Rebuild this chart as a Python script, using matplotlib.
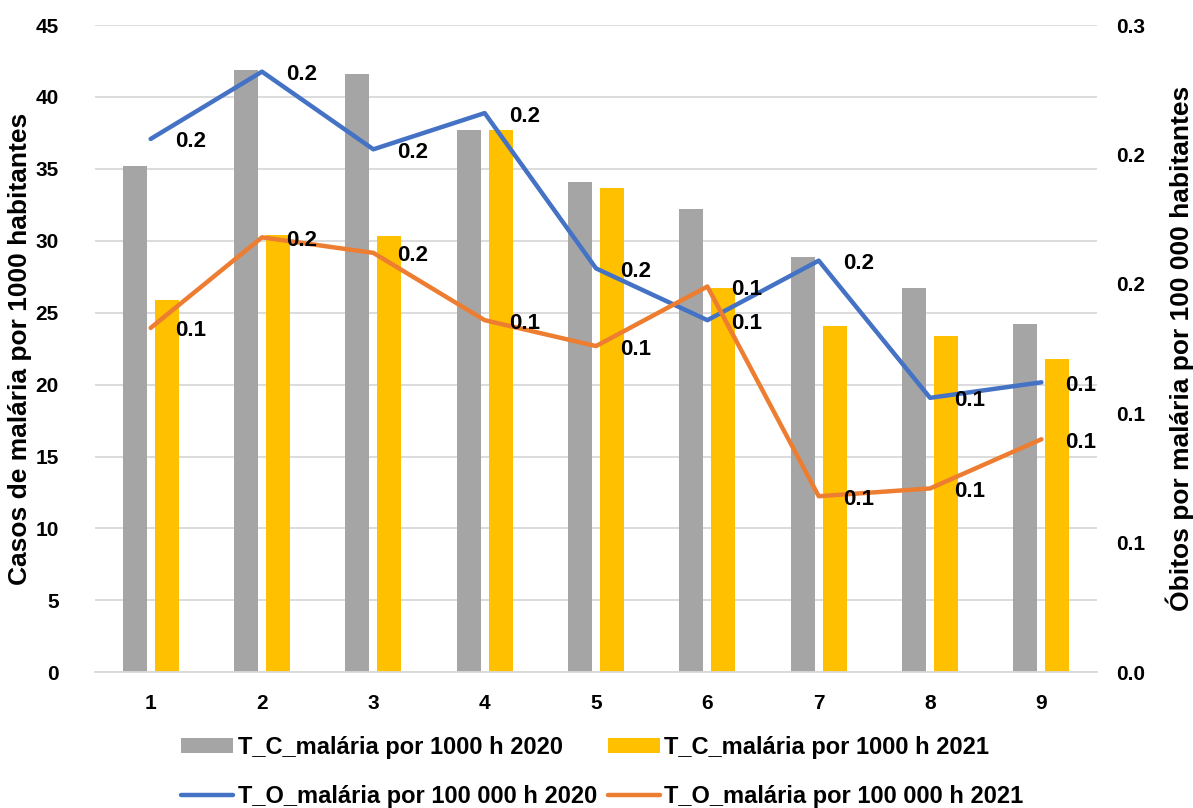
import numpy as np
import matplotlib
matplotlib.use("Agg")
from matplotlib import pyplot as plt

plt.rcParams['font.family'] = ['Liberation Sans', 'DejaVu Sans']
plt.rcParams['font.weight'] = 'bold'
plt.rcParams['axes.labelweight'] = 'bold'

categories = ['1', '2', '3', '4', '5', '6', '7', '8', '9']
casos_2020 = [35.2, 41.9, 41.6, 37.7, 34.1, 32.2, 28.9, 26.7, 24.2]
casos_2021 = [25.9, 30.4, 30.3, 37.7, 33.7, 26.7, 24.1, 23.4, 21.8]
obitos_2020 = [0.206, 0.232, 0.202, 0.216, 0.156, 0.136, 0.159, 0.106, 0.112]
obitos_2021 = [0.133, 0.168, 0.162, 0.136, 0.126, 0.149, 0.068, 0.071, 0.090]

lbl_casos_2020 = 'T_C_malária por 1000 h 2020'
lbl_casos_2021 = 'T_C_malária por 1000 h 2021'
lbl_obitos_2020 = 'T_O_malária por 100 000 h 2020'
lbl_obitos_2021 = 'T_O_malária por 100 000 h 2021'

GRAY, GOLD, BLUE, ORANGE = '#A5A5A5', '#FFC000', '#4472C4', '#ED7D31'

fig = plt.figure(figsize=(11.93, 8.08), dpi=100)
ax = fig.add_axes([0.0796, 0.168, 0.84, 0.801])
ax2 = ax.twinx()

x = np.arange(1, len(categories) + 1)
w = 0.215
ax.bar(x - 0.144, casos_2020, width=w, color=GRAY, zorder=2, label=lbl_casos_2020)
ax.bar(x + 0.144, casos_2021, width=w, color=GOLD, zorder=2, label=lbl_casos_2021)

ax.set_xlim(0.5, len(categories) + 0.5)
ax.set_ylim(0, 45)
ax.set_yticks(np.arange(0, 46, 5))
ax.set_xticks(x)
ax.set_xticklabels(categories)
ax.grid(axis='y', color='#D9D9D9', lw=1.3, zorder=0)
ax.set_axisbelow(True)
for s in ['top', 'left', 'right']:
    ax.spines[s].set_visible(False)
ax.spines['bottom'].set_color('#D9D9D9')
ax.spines['bottom'].set_linewidth(1.3)
ax.tick_params(axis='both', length=0, labelsize=15, pad=16)
ax.tick_params(axis='y', pad=26)
ax.set_ylabel('Casos de malária por 1000 habitantes', fontsize=19)
ax.yaxis.set_label_coords(-0.063, 0.5)

l1, = ax2.plot(x, obitos_2020, color=BLUE, lw=3.2, solid_joinstyle='round',
               solid_capstyle='round', label=lbl_obitos_2020)
l2, = ax2.plot(x, obitos_2021, color=ORANGE, lw=3.2, solid_joinstyle='round',
               solid_capstyle='round', label=lbl_obitos_2021)
ax2.set_ylim(0, 0.25)
ax2.set_yticks(np.arange(0, 0.26, 0.05))
ax2.set_yticklabels(['0.0', '0.1', '0.1', '0.2', '0.2', '0.3'])
for s in ax2.spines.values():
    s.set_visible(False)
ax2.tick_params(axis='y', length=0, labelsize=15, pad=14)
ax2.set_ylabel('Óbitos por malária por 100 000 habitantes', fontsize=19, labelpad=14)

# value labels to the right of each line point
for series in (obitos_2020, obitos_2021):
    for xi, v in zip(x, series):
        ax2.annotate(f'{v:.1f}', (xi, v), textcoords='offset pixels', xytext=(24, -3),
                     ha='left', va='center', fontsize=16, zorder=5)

h1, _ = ax.get_legend_handles_labels()
fig.legend([h1[0], l1, h1[1], l2],
           [lbl_casos_2020, lbl_obitos_2020, lbl_casos_2021, lbl_obitos_2021],
           ncol=2, loc='lower center', bbox_to_anchor=(0.505, -0.026), frameon=False,
           fontsize=17, handlelength=2.2, handleheight=0.6, handletextpad=0.2,
           columnspacing=0.45, labelspacing=1.1)

fig.savefig('out.png', dpi=100)
